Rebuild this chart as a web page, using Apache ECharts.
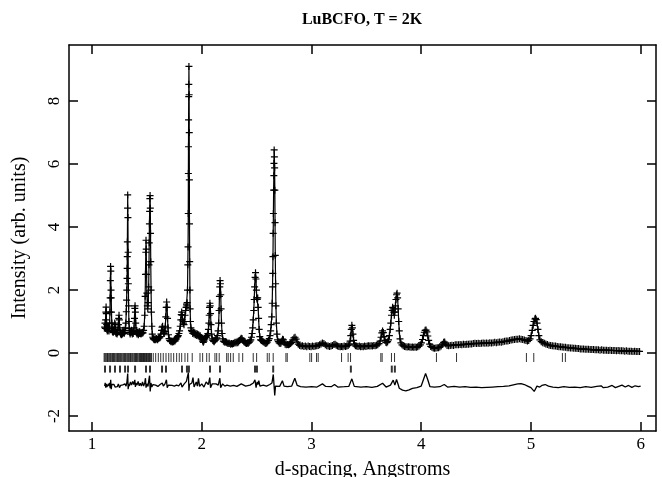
<!DOCTYPE html>
<html><head><meta charset="utf-8">
<script src="https://cdn.jsdelivr.net/npm/echarts@6/dist/echarts.min.js"></script>
<style>html,body{margin:0;padding:0;background:#fff}#c{width:662px;height:477px}</style>
</head><body><div id="c"></div>
<script>
const titleText = "LuBCFO, T = 2K";
const xName = "d-spacing, Angstroms";
const yName = "Intensity (arb. units)";
const xTickValues = [1, 2, 3, 4, 5, 6];
const yTickValues = [-2, 0, 2, 4, 6, 8];

// observed profile [d-spacing, intensity]
const observedA = [[1.115,0.82],[1.118,0.95],[1.121,0.78],[1.124,1.05],[1.126,1.3],[1.128,1.46],[1.130,1.25],[1.133,0.9],[1.136,0.75],[1.139,0.7],[1.142,0.78],[1.145,0.72],[1.148,0.85],[1.151,0.8],[1.154,0.7],[1.157,0.78],[1.160,0.95],[1.163,1.3],[1.165,1.75],[1.167,2.3],[1.169,2.75],[1.171,2.6],[1.173,2.0],[1.175,1.75],[1.177,1.3],[1.180,0.95],[1.183,0.78],[1.186,0.68],[1.189,0.72],[1.192,0.65],[1.195,0.7],[1.198,0.68],[1.201,0.75],[1.204,0.82],[1.207,0.95],[1.210,0.9],[1.213,0.75],[1.216,0.66],[1.220,0.62],[1.224,0.66],[1.228,0.6],[1.232,0.65],[1.236,0.72],[1.240,0.9],[1.243,1.1],[1.246,1.2],[1.249,1.05],[1.252,0.8],[1.256,0.66],[1.260,0.6],[1.264,0.64],[1.268,0.58],[1.272,0.62],[1.276,0.6],[1.280,0.66],[1.284,0.72],[1.288,0.65],[1.292,0.62],[1.296,0.66],[1.300,0.72],[1.304,0.8],[1.308,0.95],[1.312,1.31],[1.315,1.68],[1.317,2.0],[1.319,2.37],[1.320,2.69],[1.321,3.06],[1.322,3.53],[1.324,4.6],[1.325,5.02],[1.327,4.3],[1.329,3.2],[1.331,2.2],[1.333,1.5],[1.336,1.0],[1.339,0.78],[1.343,0.66],[1.347,0.6],[1.351,0.64],[1.355,0.66],[1.359,0.72],[1.363,0.66],[1.367,0.6],[1.371,0.64],[1.375,0.62],[1.379,0.68],[1.383,0.8],[1.387,1.1],[1.390,1.42],[1.392,1.5],[1.395,1.3],[1.398,0.95],[1.402,0.72],[1.406,0.64],[1.410,0.6],[1.414,0.66],[1.418,0.62],[1.422,0.58],[1.426,0.64],[1.430,0.68],[1.434,0.62],[1.438,0.66],[1.442,0.62],[1.446,0.6],[1.450,0.64],[1.455,0.62],[1.460,0.66],[1.465,0.64],[1.470,0.72],[1.475,0.85],[1.480,1.2],[1.484,1.8],[1.487,2.5],[1.490,3.2],[1.492,3.58],[1.494,3.3],[1.497,2.5],[1.500,1.9],[1.504,1.5],[1.508,1.4],[1.512,1.6],[1.516,2.1],[1.519,2.8],[1.521,3.5],[1.523,4.1],[1.525,4.5],[1.527,4.9],[1.529,5.0],[1.531,4.6],[1.533,3.8],[1.535,2.9],[1.538,2.0],[1.541,1.3],[1.545,0.85],[1.549,0.6],[1.553,0.5],[1.558,0.46],[1.563,0.44],[1.568,0.42]];
const observedB = [[1.574,0.45],[1.580,0.42],[1.586,0.46],[1.592,0.44],[1.598,0.42],[1.604,0.46],[1.610,0.5],[1.616,0.48],[1.622,0.52],[1.628,0.6],[1.633,0.72],[1.638,0.82],[1.643,0.85],[1.648,0.72],[1.653,0.64],[1.658,0.62],[1.663,0.68],[1.668,0.85],[1.672,1.15],[1.676,1.45],[1.680,1.62],[1.684,1.45],[1.688,1.1],[1.692,0.8],[1.697,0.58],[1.702,0.46],[1.708,0.4],[1.714,0.38],[1.720,0.36],[1.726,0.38],[1.732,0.35],[1.738,0.37],[1.744,0.36],[1.750,0.4],[1.756,0.38],[1.762,0.42],[1.768,0.45],[1.774,0.5],[1.780,0.52],[1.786,0.55],[1.792,0.62],[1.798,0.7],[1.804,0.85],[1.809,1.05],[1.813,1.22],[1.817,1.3],[1.821,1.2],[1.825,1.05],[1.829,1.0],[1.833,0.95],[1.838,0.9],[1.843,1.0],[1.848,1.2],[1.853,1.35],[1.857,1.45],[1.861,1.55],[1.864,1.5],[1.867,1.6],[1.870,2.0],[1.873,2.8],[1.875,3.37],[1.877,4.43],[1.878,5.7],[1.879,6.55],[1.880,7.4],[1.881,8.14],[1.882,8.53],[1.883,9.1],[1.885,8.2],[1.886,7.0],[1.887,5.5],[1.888,4.1],[1.890,2.9],[1.892,2.0],[1.894,1.4],[1.897,1.0],[1.901,0.8],[1.906,0.72]];
const observedC = [[1.912,0.68],[1.918,0.62],[1.924,0.66],[1.930,0.6],[1.936,0.64],[1.942,0.58],[1.948,0.62],[1.954,0.56],[1.960,0.6],[1.966,0.55],[1.972,0.58],[1.978,0.52],[1.984,0.56],[1.990,0.5],[1.996,0.48],[2.002,0.45],[2.008,0.38],[2.014,0.34],[2.020,0.38],[2.026,0.45],[2.032,0.5],[2.038,0.52],[2.044,0.5],[2.050,0.55],[2.056,0.62],[2.061,0.75],[2.065,0.95],[2.068,1.2],[2.071,1.45],[2.074,1.58],[2.077,1.5],[2.080,1.25],[2.084,0.9],[2.089,0.6],[2.095,0.45],[2.101,0.4],[2.107,0.38],[2.113,0.36],[2.119,0.4],[2.125,0.42],[2.131,0.45],[2.137,0.48],[2.143,0.55],[2.149,0.7],[2.154,0.95],[2.158,1.35],[2.161,1.8],[2.164,2.1],[2.167,2.3],[2.170,2.2],[2.173,1.85],[2.176,1.4],[2.180,0.95],[2.185,0.62],[2.191,0.45],[2.197,0.38],[2.204,0.36],[2.211,0.34],[2.218,0.36],[2.225,0.34],[2.232,0.32],[2.240,0.3],[2.248,0.32],[2.256,0.3],[2.264,0.28],[2.272,0.3],[2.280,0.29],[2.288,0.3],[2.296,0.32],[2.304,0.34],[2.312,0.32],[2.320,0.35],[2.328,0.33],[2.336,0.36],[2.344,0.4],[2.352,0.44],[2.360,0.47],[2.368,0.45],[2.376,0.4],[2.384,0.36],[2.392,0.34],[2.400,0.32],[2.408,0.3],[2.416,0.32],[2.424,0.31],[2.432,0.34],[2.440,0.38],[2.447,0.42],[2.453,0.5],[2.459,0.62],[2.464,0.8],[2.469,1.05],[2.474,1.35],[2.478,1.7],[2.482,2.1],[2.486,2.4],[2.490,2.55],[2.494,2.35],[2.498,2.0],[2.502,1.75],[2.506,1.7],[2.510,1.75],[2.514,1.45],[2.518,1.1],[2.523,0.75],[2.529,0.52],[2.536,0.42],[2.544,0.4],[2.552,0.38],[2.560,0.36],[2.568,0.34],[2.576,0.32],[2.584,0.3],[2.592,0.32],[2.600,0.35],[2.608,0.4],[2.615,0.46],[2.622,0.55],[2.628,0.7],[2.633,0.9],[2.638,1.15],[2.642,1.58],[2.645,2.1],[2.647,2.53],[2.649,3.06],[2.651,3.8],[2.653,4.43],[2.655,5.17],[2.657,5.63],[2.658,6.02],[2.660,6.45],[2.662,6.23],[2.664,5.88],[2.666,5.17],[2.668,4.14],[2.670,3.1],[2.673,2.2],[2.676,1.5],[2.680,0.95],[2.685,0.6],[2.691,0.42]];
const observedD = [[2.698,0.36],[2.706,0.32],[2.714,0.3],[2.722,0.32],[2.730,0.38],[2.737,0.44],[2.744,0.42],[2.752,0.34],[2.760,0.28],[2.770,0.26],[2.780,0.27],[2.790,0.26],[2.800,0.28],[2.810,0.3],[2.820,0.34],[2.830,0.42],[2.840,0.48],[2.850,0.5],[2.860,0.44],[2.870,0.35],[2.880,0.28],[2.892,0.24],[2.905,0.22],[2.918,0.23],[2.931,0.21],[2.944,0.22],[2.957,0.2],[2.970,0.22],[2.983,0.21],[2.996,0.2],[3.009,0.22],[3.022,0.21],[3.035,0.22],[3.048,0.23],[3.061,0.24],[3.074,0.26],[3.087,0.29],[3.100,0.32],[3.113,0.3],[3.126,0.26],[3.139,0.23],[3.152,0.22],[3.165,0.21],[3.178,0.22],[3.191,0.24],[3.204,0.27],[3.215,0.28],[3.226,0.25],[3.238,0.22],[3.250,0.21],[3.262,0.2],[3.274,0.21],[3.286,0.2],[3.298,0.22],[3.310,0.21],[3.322,0.22],[3.334,0.24],[3.344,0.28],[3.352,0.38],[3.358,0.55],[3.363,0.75],[3.368,0.88],[3.373,0.8],[3.378,0.6],[3.384,0.4],[3.391,0.28],[3.400,0.23],[3.412,0.22],[3.424,0.21],[3.436,0.22],[3.448,0.2],[3.460,0.21],[3.472,0.2],[3.484,0.22],[3.496,0.21],[3.508,0.22],[3.520,0.23],[3.532,0.22],[3.544,0.23],[3.556,0.22],[3.568,0.24],[3.580,0.23],[3.592,0.25],[3.604,0.26],[3.616,0.3],[3.626,0.38],[3.634,0.5],[3.641,0.64],[3.648,0.7],[3.655,0.65],[3.662,0.52],[3.670,0.4],[3.678,0.34],[3.686,0.33],[3.694,0.36],[3.702,0.42],[3.710,0.55],[3.717,0.75],[3.723,0.95],[3.729,1.2],[3.735,1.35],[3.740,1.45],[3.745,1.4],[3.750,1.3],[3.755,1.2],[3.760,1.3],[3.765,1.5],[3.770,1.7],[3.775,1.85],[3.780,1.9],[3.785,1.75],[3.790,1.4],[3.795,1.0],[3.800,0.7],[3.807,0.45],[3.815,0.32],[3.825,0.26],[3.836,0.23],[3.848,0.21],[3.860,0.2],[3.872,0.19],[3.884,0.2],[3.896,0.19]];
const observedE = [[3.908,0.18],[3.920,0.19],[3.932,0.18],[3.944,0.19],[3.956,0.18],[3.968,0.2],[3.980,0.22],[3.992,0.26],[4.002,0.32],[4.012,0.43],[4.020,0.56],[4.028,0.66],[4.036,0.72],[4.044,0.73],[4.052,0.67],[4.060,0.54],[4.068,0.4],[4.077,0.28],[4.087,0.21],[4.098,0.18],[4.110,0.16],[4.122,0.15],[4.134,0.16],[4.146,0.17],[4.158,0.17],[4.170,0.19],[4.182,0.22],[4.194,0.28],[4.205,0.34],[4.214,0.35],[4.224,0.29],[4.236,0.24],[4.250,0.23],[4.265,0.24],[4.280,0.25],[4.295,0.24],[4.310,0.26],[4.325,0.26],[4.340,0.26],[4.355,0.27],[4.370,0.26],[4.385,0.28],[4.400,0.27],[4.415,0.28],[4.430,0.28],[4.445,0.29],[4.460,0.29],[4.475,0.3],[4.490,0.31],[4.505,0.3],[4.520,0.31],[4.535,0.3],[4.550,0.31],[4.565,0.32],[4.580,0.31],[4.595,0.32],[4.610,0.31],[4.625,0.33],[4.640,0.32],[4.655,0.33],[4.670,0.34],[4.685,0.33],[4.700,0.34],[4.715,0.35],[4.730,0.34],[4.745,0.36],[4.760,0.37],[4.775,0.38],[4.790,0.38],[4.805,0.4],[4.820,0.41],[4.835,0.42],[4.850,0.43],[4.865,0.44],[4.880,0.44],[4.895,0.45],[4.910,0.44],[4.925,0.43],[4.940,0.41],[4.955,0.4],[4.968,0.38],[4.980,0.4],[4.992,0.45],[5.002,0.55],[5.012,0.72],[5.020,0.88],[5.028,1.0],[5.036,1.08],[5.042,1.1],[5.048,1.06],[5.056,0.95],[5.064,0.75],[5.072,0.55],[5.082,0.42],[5.094,0.36],[5.108,0.33],[5.122,0.31],[5.136,0.29],[5.150,0.27],[5.165,0.25],[5.180,0.24],[5.195,0.23],[5.210,0.22],[5.225,0.22],[5.240,0.21],[5.255,0.2],[5.270,0.2],[5.285,0.19],[5.300,0.18],[5.315,0.18],[5.330,0.17],[5.345,0.17],[5.360,0.16],[5.375,0.16],[5.390,0.15],[5.405,0.15],[5.420,0.14],[5.435,0.14],[5.450,0.13],[5.465,0.13],[5.480,0.13],[5.495,0.12],[5.510,0.12],[5.525,0.12],[5.540,0.11],[5.555,0.11],[5.570,0.11],[5.585,0.1],[5.600,0.1],[5.615,0.1],[5.630,0.09],[5.645,0.1],[5.660,0.09],[5.675,0.09],[5.690,0.09],[5.705,0.08],[5.720,0.09],[5.735,0.08],[5.750,0.08],[5.765,0.08],[5.780,0.07],[5.795,0.08],[5.810,0.07],[5.825,0.07],[5.840,0.07],[5.855,0.06],[5.870,0.07],[5.885,0.06],[5.900,0.06],[5.915,0.06],[5.930,0.05],[5.945,0.06],[5.960,0.05],[5.975,0.05],[5.990,0.05]];

// difference curve (observed - calculated, offset)
const difference = [[1.115,-1.05],[1.12,-0.95],[1.125,-1.1],[1.13,-0.98],[1.135,-1.08],[1.14,-1.02],[1.145,-1.1],[1.15,-0.98],[1.155,-1.05],[1.16,-0.95],[1.165,-1.12],[1.17,-0.85],[1.175,-1.15],[1.18,-1.0],[1.19,-1.06],[1.20,-1.0],[1.21,-1.08],[1.22,-1.02],[1.23,-1.07],[1.24,-0.98],[1.25,-1.1],[1.26,-1.03],[1.27,-1.08],[1.28,-1.01],[1.29,-1.06],[1.30,-0.98],[1.31,-1.05],[1.318,-0.92],[1.325,-0.65],[1.329,-1.15],[1.335,-0.98],[1.34,-1.05],[1.35,-0.92],[1.36,-1.02],[1.37,-0.9],[1.38,-1.0],[1.39,-0.85],[1.395,-1.08],[1.40,-0.95],[1.41,-1.02],[1.42,-0.9],[1.43,-1.04],[1.44,-0.96],[1.45,-1.05],[1.46,-0.92],[1.47,-1.05],[1.48,-0.95],[1.487,-0.8],[1.492,-1.1],[1.50,-0.98],[1.51,-1.06],[1.518,-0.85],[1.524,-0.72],[1.53,-1.22],[1.537,-0.95],[1.545,-1.08],[1.555,-1.0],[1.565,-1.05],[1.58,-1.02],[1.60,-1.06],[1.62,-1.0],[1.64,-0.95],[1.65,-1.05],[1.665,-0.98],[1.678,-0.85],[1.685,-1.1],[1.695,-1.02],[1.71,-1.06],[1.73,-1.03],[1.75,-1.05],[1.77,-1.02],[1.79,-1.04],[1.81,-0.95],[1.82,-1.08],[1.84,-0.98],[1.86,-0.9],[1.872,-0.85],[1.878,-0.62],[1.883,-1.2],[1.888,-1.0],[1.90,-1.06],[1.91,-0.95],[1.92,-0.78],[1.93,-1.08],[1.95,-0.92],[1.96,-1.05],[1.97,-0.8],[1.98,-1.06],[2.00,-0.98],[2.02,-1.08],[2.04,-0.92],[2.06,-1.0],[2.073,-0.78],[2.08,-1.1],[2.095,-0.98],[2.11,-1.04],[2.13,-0.98],[2.15,-1.02],[2.165,-0.8],[2.172,-1.1],[2.19,-0.98],[2.21,-1.05],[2.23,-1.02],[2.26,-1.05],[2.29,-1.03],[2.32,-1.06],[2.36,-0.98],[2.40,-1.05],[2.44,-1.02],[2.47,-0.95],[2.485,-0.85],[2.495,-1.1],[2.505,-0.92],[2.512,-1.0],[2.52,-0.88],[2.53,-1.05],[2.56,-1.02],[2.59,-1.05],[2.62,-1.0],[2.64,-0.95],[2.652,-0.68],[2.66,-0.62],[2.665,-1.35],[2.672,-1.05],[2.69,-1.08],[2.71,-1.06],[2.735,-0.88],[2.75,-1.05],[2.78,-1.07],[2.82,-1.05],[2.848,-0.8],[2.87,-1.03],[2.90,-1.07],[2.95,-1.08],[3.00,-1.07],[3.05,-1.08],[3.10,-0.98],[3.13,-1.06],[3.18,-1.07],[3.21,-1.0],[3.24,-1.08],[3.30,-1.07],[3.34,-1.06],[3.368,-0.82],[3.39,-1.06],[3.45,-1.08],[3.50,-1.07],[3.55,-1.09],[3.60,-1.06],[3.648,-0.96],[3.68,-1.08],[3.72,-1.02],[3.745,-0.86],[3.76,-1.02],[3.775,-0.84],[3.79,-1.0],[3.80,-1.12],[3.83,-1.18],[3.86,-1.2],[3.89,-1.17],[3.92,-1.12],[3.96,-1.1],[4.00,-1.05],[4.02,-0.85],[4.04,-0.65],[4.06,-0.85],[4.08,-1.07],[4.12,-1.08],[4.17,-1.07],[4.21,-1.0],[4.24,-1.08],[4.30,-1.06],[4.35,-1.08],[4.40,-1.07],[4.45,-1.09],[4.50,-1.08],[4.55,-1.1],[4.60,-1.09],[4.65,-1.08],[4.70,-1.07],[4.75,-1.06],[4.80,-1.04],[4.85,-1.0],[4.88,-0.98],[4.91,-0.97],[4.94,-1.0],[4.97,-1.05],[5.00,-1.1],[5.03,-1.22],[5.04,-1.27],[5.055,-1.05],[5.08,-1.08],[5.10,-1.03],[5.13,-1.0],[5.16,-1.05],[5.20,-1.08],[5.25,-1.1],[5.30,-1.07],[5.35,-1.09],[5.40,-1.08],[5.45,-1.1],[5.50,-1.07],[5.55,-1.09],[5.60,-1.06],[5.64,-1.04],[5.66,-1.1],[5.70,-1.08],[5.74,-1.03],[5.77,-1.1],[5.80,-1.06],[5.83,-1.02],[5.86,-1.08],[5.89,-1.03],[5.92,-1.09],[5.95,-1.04],[5.98,-1.07],[6.00,-1.05]];

// reflection positions (d-spacing)
const phase1Reflections = [1.110,1.117,1.125,1.134,1.141,1.148,1.157,1.165,1.171,1.180,1.187,1.196,1.203,1.210,1.219,1.227,1.233,1.242,1.249,1.258,1.265,1.272,1.281,1.289,1.295,1.304,1.311,1.320,1.327,1.334,1.343,1.351,1.357,1.366,1.373,1.382,1.389,1.396,1.405,1.412,1.419,1.428,1.434,1.441,1.447,1.452,1.459,1.466,1.470,1.478,1.485,1.491,1.497,1.503,1.510,1.516,1.523,1.529,1.536,1.541,1.558,1.580,1.604,1.626,1.649,1.674,1.699,1.720,1.744,1.771,1.795,1.817,1.847,1.872,1.913,1.984,2.008,2.045,2.068,2.120,2.136,2.159,2.227,2.241,2.263,2.287,2.339,2.373,2.469,2.500,2.597,2.615,2.651,2.767,2.779,2.985,3.001,3.046,3.061,3.274,3.334,3.356,3.632,3.644,3.729,3.757,4.139,4.322,4.959,5.026,5.287,5.314];
const phase2Reflections = [1.118,1.164,1.209,1.255,1.301,1.328,1.392,1.492,1.528,1.638,1.674,1.820,1.865,1.883,2.075,2.166,2.485,2.503,2.651,3.359,3.732,3.760];
const phase1Row = -0.14;
const phase2Row = -0.51;

const observed = observedA.concat(observedB, observedC, observedD, observedE);

const FONT = "'Liberation Serif', 'DejaVu Serif', serif";
const chart = echarts.init(document.getElementById('c'), null, {renderer: 'canvas'});

function plusItem(params, api) {
  const p = api.coord([api.value(0), api.value(1)]);
  const h = 3.5;
  return {
    type: 'path',
    shape: {pathData: 'M' + (p[0]-h) + ',' + p[1] + 'L' + (p[0]+h) + ',' + p[1] + 'M' + p[0] + ',' + (p[1]-h) + 'L' + p[0] + ',' + (p[1]+h)},
    style: {stroke: '#000', lineWidth: 1.2, fill: null},
    silent: true
  };
}

const axisLine = {show: true, onZero: false, lineStyle: {color: '#000', width: 1.5}};
const axisTickIn = (vals) => ({show: true, inside: true, length: 9, customValues: vals, lineStyle: {color: '#000', width: 1.5}});

const option = {
  animation: false,
  backgroundColor: '#fff',
  grid: {left: 69, right: 6, top: 45, bottom: 46, containLabel: false, outerBoundsMode: 'none'},
  graphic: [{
    type: 'text', x: 362, y: 20,
    style: {text: titleText, font: "bold 16px " + FONT, fill: '#000', align: 'center', verticalAlign: 'middle'}
  }],
  xAxis: [
    {type: 'value', position: 'bottom', min: 0.79, max: 6.14,
     name: xName, nameLocation: 'middle', nameGap: 29,
     nameTextStyle: {fontFamily: FONT, fontSize: 20, color: '#000'},
     axisLine: axisLine, axisTick: axisTickIn(xTickValues),
     axisLabel: {customValues: xTickValues, fontFamily: FONT, fontSize: 17, color: '#000', margin: 5},
     splitLine: {show: false}},
    {type: 'value', position: 'top', min: 0.79, max: 6.14,
     axisLine: axisLine, axisTick: axisTickIn(xTickValues),
     axisLabel: {show: false}, splitLine: {show: false}}
  ],
  yAxis: [
    {type: 'value', position: 'left', min: -2.476, max: 9.78,
     name: yName, nameLocation: 'middle', nameGap: 39, nameRotate: 90,
     nameTextStyle: {fontFamily: FONT, fontSize: 20, color: '#000'},
     axisLine: axisLine, axisTick: axisTickIn(yTickValues),
     axisLabel: {customValues: yTickValues, rotate: 90, fontFamily: FONT, fontSize: 17, color: '#000', margin: 6},
     splitLine: {show: false}},
    {type: 'value', position: 'right', min: -2.476, max: 9.78,
     axisLine: axisLine, axisTick: axisTickIn(yTickValues),
     axisLabel: {show: false}, splitLine: {show: false}}
  ],
  series: [
    {type: 'custom', name: 'observed', data: observed, renderItem: plusItem, xAxisIndex: 0, yAxisIndex: 0, clip: true, z: 3},
    {type: 'line', name: 'calculated', data: observed, showSymbol: false, symbol: 'none',
     lineStyle: {color: '#000', width: 1.2}, xAxisIndex: 0, yAxisIndex: 0, z: 4},
    {type: 'line', name: 'difference', data: difference, showSymbol: false, symbol: 'none',
     lineStyle: {color: '#000', width: 1.3}, xAxisIndex: 0, yAxisIndex: 0, z: 4},
    {type: 'scatter', name: 'phase1', data: phase1Reflections.map(d => [d, phase1Row]),
     symbol: 'rect', symbolSize: [1, 9], itemStyle: {color: '#000'}, silent: true},
    {type: 'scatter', name: 'phase2', data: phase2Reflections.map(d => [d, phase2Row]),
     symbol: 'rect', symbolSize: [2, 7], itemStyle: {color: '#000'}, silent: true}
  ]
};
chart.setOption(option);
</script>
</body></html>
